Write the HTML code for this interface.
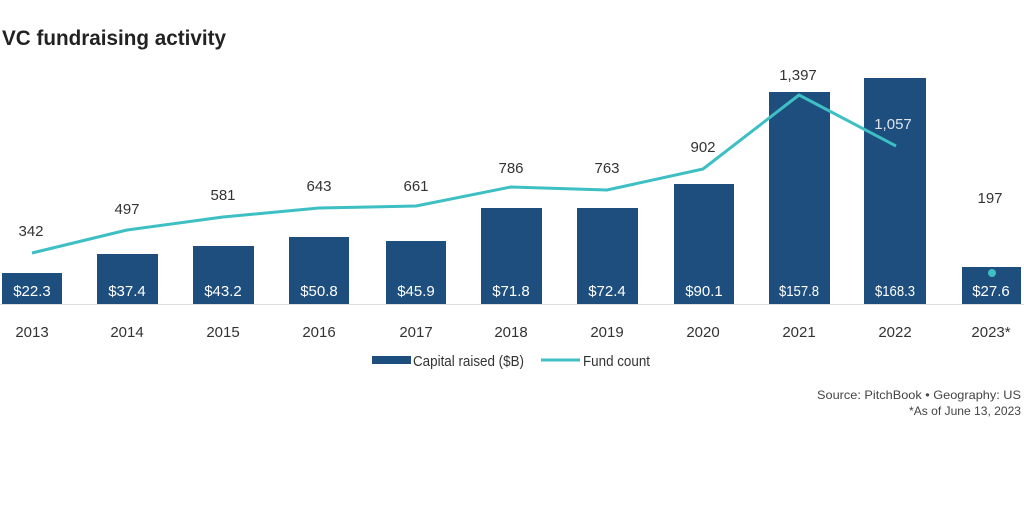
<!DOCTYPE html>
<html><head><meta charset="utf-8"><style>
html,body{margin:0;padding:0;background:#fff;width:1024px;height:505px;overflow:hidden}
svg{display:block;font-family:"Liberation Sans",sans-serif}
</style></head><body>
<svg width="1024" height="505" viewBox="0 0 1024 505">
<text x="2" y="45" font-size="21" font-weight="bold" fill="#222" textLength="224" lengthAdjust="spacingAndGlyphs">VC fundraising activity</text>
<g fill="#1d4e7e">
<rect x="2" y="273" width="60" height="31"/>
<rect x="97" y="254" width="61" height="50"/>
<rect x="193" y="246" width="61" height="58"/>
<rect x="289" y="237" width="60" height="67"/>
<rect x="386" y="241" width="60" height="63"/>
<rect x="481" y="208" width="61" height="96"/>
<rect x="577" y="208" width="61" height="96"/>
<rect x="674" y="184" width="60" height="120"/>
<rect x="769" y="92" width="61" height="212"/>
<rect x="864" y="78" width="62" height="226"/>
<rect x="962" y="267" width="59" height="37"/>
</g>
<line x1="0" y1="304.5" x2="1024" y2="304.5" stroke="#ddd" stroke-width="1"/>
<g fill="#fff" font-size="15" text-anchor="middle">
<text x="32" y="296">$22.3</text><text x="127" y="296">$37.4</text><text x="223" y="296">$43.2</text>
<text x="319" y="296">$50.8</text><text x="416" y="296">$45.9</text><text x="511" y="296">$71.8</text>
<text x="607" y="296">$72.4</text><text x="704" y="296">$90.1</text><text x="799" y="296" textLength="40" lengthAdjust="spacingAndGlyphs">$157.8</text>
<text x="895" y="296" textLength="40" lengthAdjust="spacingAndGlyphs">$168.3</text><text x="991" y="296">$27.6</text>
</g>
<polyline points="32,253 127,230 223,217 319,208 416,206 511,187 607,190 703,169 799,95 896,146" fill="none" stroke="#3dbfc4" stroke-width="3" stroke-linejoin="round"/>
<circle cx="992" cy="273" r="4" fill="#3dbfc4"/>
<g fill="#333" font-size="15" text-anchor="middle">
<text x="31" y="236">342</text><text x="127" y="214">497</text><text x="223" y="200">581</text>
<text x="319" y="191">643</text><text x="416" y="191">661</text><text x="511" y="173">786</text>
<text x="607" y="173">763</text><text x="703" y="152">902</text><text x="798" y="80">1,397</text>
<text x="893" y="129" fill="#dde4ec">1,057</text><text x="990" y="203">197</text>
</g>
<g fill="#333" font-size="15" text-anchor="middle">
<text x="32" y="337">2013</text><text x="127" y="337">2014</text><text x="223" y="337">2015</text>
<text x="319" y="337">2016</text><text x="416" y="337">2017</text><text x="511" y="337">2018</text>
<text x="607" y="337">2019</text><text x="703" y="337">2020</text><text x="799" y="337">2021</text>
<text x="895" y="337">2022</text><text x="991" y="337">2023*</text>
</g>
<rect x="372" y="356" width="39" height="8" fill="#1d4e7e"/>
<text x="413" y="366" font-size="15" fill="#333" textLength="111" lengthAdjust="spacingAndGlyphs">Capital raised ($B)</text>
<line x1="541" y1="360" x2="580" y2="360" stroke="#3dbfc4" stroke-width="3"/>
<text x="583" y="366" font-size="15" fill="#333" textLength="67" lengthAdjust="spacingAndGlyphs">Fund count</text>
<text x="1021" y="399" font-size="12" fill="#444" text-anchor="end" textLength="204" lengthAdjust="spacingAndGlyphs">Source: PitchBook  •  Geography: US</text>
<text x="1021" y="415" font-size="12" fill="#444" text-anchor="end" textLength="112" lengthAdjust="spacingAndGlyphs">*As of June 13, 2023</text>
</svg>
</body></html>
